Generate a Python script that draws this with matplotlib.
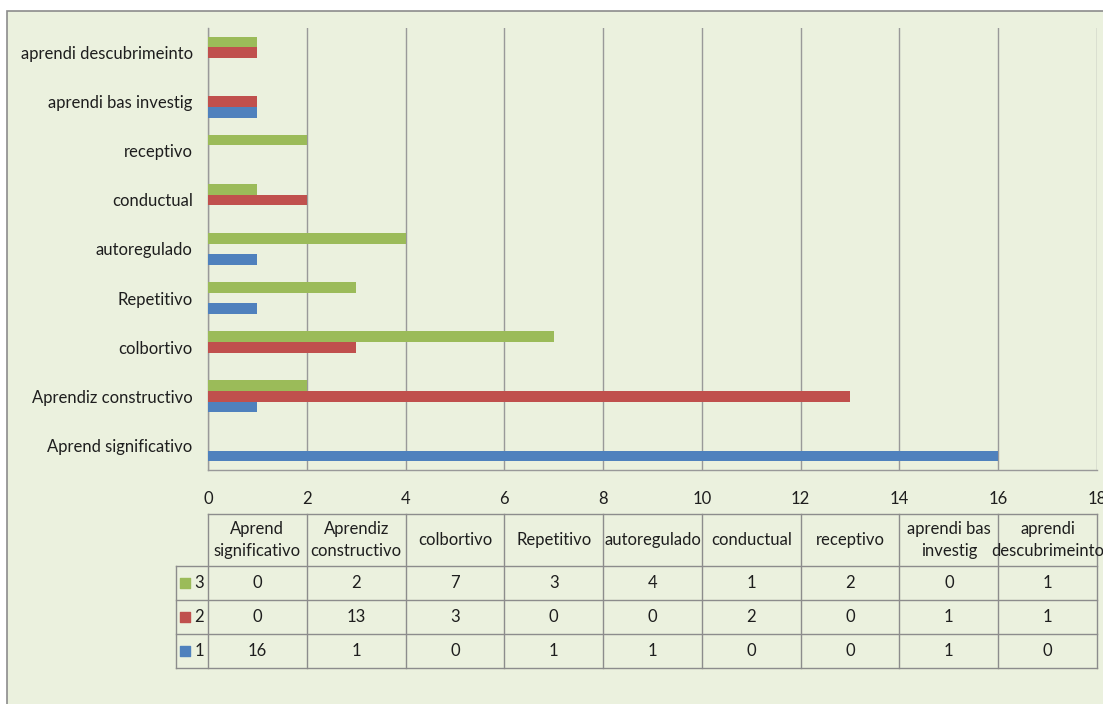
import matplotlib
matplotlib.use("Agg")
import matplotlib.pyplot as plt
from matplotlib.patches import Rectangle
import numpy as np

# data
categories = ["Aprend significativo", "Aprendiz constructivo", "colbortivo",
              "Repetitivo", "autoregulado", "conductual", "receptivo",
              "aprendi bas investig", "aprendi descubrimeinto"]
header_labels = ["Aprend\nsignificativo", "Aprendiz\nconstructivo", "colbortivo",
                 "Repetitivo", "autoregulado", "conductual", "receptivo",
                 "aprendi bas\ninvestig", "aprendi\ndescubrimeinto"]
series_names = ["1", "2", "3"]
s1 = [16, 1, 0, 1, 1, 0, 0, 1, 0]
s2 = [0, 13, 3, 0, 0, 2, 0, 1, 1]
s3 = [0, 2, 7, 3, 4, 1, 2, 0, 1]
colors = ["#4F81BD", "#C0504D", "#9BBB59"]
bg = "#EBF1DE"
grid_col = "#999999"
txt_col = "#1e1e1e"

plt.rcParams['font.family'] = ['Lato', 'DejaVu Sans']
FS = 12

W, H = 1103, 704
fig = plt.figure(figsize=(W / 100, H / 100), dpi=100, facecolor="white")

# outer chart frame
fig.patches.append(Rectangle((7 / W, -0.05), 1.1, 1 - 11 / H + 0.05,
                             transform=fig.transFigure, facecolor=bg,
                             edgecolor="#8c8c8c", lw=1.2, zorder=-5))

# main bar axes
ax = fig.add_axes([208 / W, 1 - 470 / H, (1097 - 208) / W, (470 - 28) / H])
ax.set_facecolor("none")
y = np.arange(len(categories))
h = 0.215
ax.barh(y - h, s1, height=h, color=colors[0], zorder=3)
ax.barh(y, s2, height=h, color=colors[1], zorder=3)
ax.barh(y + h, s3, height=h, color=colors[2], zorder=3)
ax.set_xlim(0, 18)
ax.set_ylim(-0.5, len(categories) - 0.5)
ax.set_xticks(np.arange(0, 19, 2))
ax.set_yticks(y)
ax.set_yticklabels(categories, fontsize=FS, color=txt_col)
ax.tick_params(axis="y", length=0, pad=11)
ax.tick_params(axis="x", length=0, labelsize=FS, labelcolor=txt_col, pad=15)
ax.grid(axis="x", color=grid_col, lw=1, zorder=1)
for s in ["top", "right"]:
    ax.spines[s].set_visible(False)
for s in ["left", "bottom"]:
    ax.spines[s].set_color(grid_col)
    ax.spines[s].set_linewidth(1)

# data table below
tax = fig.add_axes([208 / W, 1 - 668 / H, (1097 - 208) / W, (668 - 514) / H])
tax.set_xlim(0, 18)
tax.set_ylim(0, 4.53)
tax.axis("off")
lc = "#8c8c8c"
xl = -0.65
ncol = len(categories)
col_edges = np.arange(0, 2 * ncol + 1, 2)
# horizontal lines
for yy in [0, 1, 2]:
    tax.plot([xl, col_edges[-1]], [yy, yy], color=lc, lw=1, clip_on=False)
tax.plot([xl, col_edges[-1]], [3, 3], color=lc, lw=1, clip_on=False)
tax.plot([0, col_edges[-1]], [4.53, 4.53], color=lc, lw=1, clip_on=False)
# vertical lines
tax.plot([xl, xl], [0, 3], color=lc, lw=1, clip_on=False)
for xe in col_edges:
    tax.plot([xe, xe], [0, 4.53], color=lc, lw=1, clip_on=False)
# header
for j, lab in enumerate(header_labels):
    tax.text(2 * j + 1, 3.765, lab, ha="center", va="center", fontsize=FS,
             color=txt_col, linespacing=1.4, clip_on=False)
# rows (top: series 3)
rows = [(series_names[2], s3, colors[2]), (series_names[1], s2, colors[1]),
        (series_names[0], s1, colors[0])]
for i, (name, vals, c) in enumerate(rows):
    yc = 2.5 - i
    tax.scatter([xl + 0.19], [yc], marker="s", s=42, color=c, clip_on=False)
    tax.text(xl + 0.37, yc, name, ha="left", va="center", fontsize=FS,
             color=txt_col, clip_on=False)
    for j, v in enumerate(vals):
        tax.text(2 * j + 1, yc, str(v), ha="center", va="center",
                 fontsize=FS, color=txt_col, clip_on=False)

fig.savefig("out.png", dpi=100, facecolor="white")
